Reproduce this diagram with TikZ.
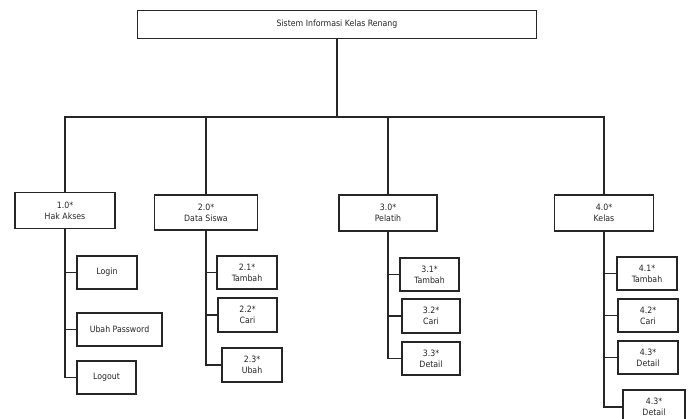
\documentclass[tikz,border=0pt]{standalone}
\usepackage{fontspec}
\setmainfont{DejaVu Sans Condensed}
\begin{document}
\begin{tikzpicture}[x=1pt,y=-1pt,
  every node/.style={font=\fontsize{8.7}{11}\selectfont, text=black!85},
  box/.style={draw=black!85, line width=1.6pt, fill=white, inner sep=0pt,
    align=center, minimum width=#1},
  box/.default=60pt,
  link/.style={draw=black!85, line width=1.5pt},
]
\useasboundingbox (0,0) rectangle (691,419);
\clip (0,0) rectangle (691,419);

% root
\node[box=399pt, minimum height=28pt] (root) at (337,24.5) {Sistem Informasi Kelas Renang};

% first level
\node[box=100pt, minimum height=36pt] (h1) at (65,210.5) {1.0*\\Hak Akses};
\node[box=103pt, minimum height=35pt] (h2) at (206,212.5) {2.0*\\Data Siswa};
\node[box=98pt, minimum height=36pt] (h3) at (388,213) {3.0*\\Pelatih};
\node[box=99pt, minimum height=36pt] (h4) at (604,213) {4.0*\\Kelas};

% 1.0 children
\node[box=60pt, minimum height=33pt] (login) at (107,272.5) {Login};
\node[box=85pt, minimum height=33pt] (pass) at (119.5,329.5) {Ubah Password};
\node[box=59pt, minimum height=33pt] (logout) at (106.5,377.5) {Logout};

% 2.0 children
\node[box=60pt, minimum height=33pt] (s1) at (247,272.5) {2.1*\\Tambah};
\node[box=59pt, minimum height=34pt] (s2) at (247.5,315) {2.2*\\Cari};
\node[box=60pt, minimum height=34pt] (s3) at (252,365) {2.3*\\Ubah};

% 3.0 children
\node[box=59pt, minimum height=33pt] (p1) at (429.5,274.5) {3.1*\\Tambah};
\node[box=58pt, minimum height=34pt] (p2) at (431,316) {3.2*\\Cari};
\node[box=58pt, minimum height=33pt] (p3) at (431,358.5) {3.3*\\Detail};

% 4.0 children
\node[box=60pt, minimum height=33pt] (k1) at (647,273.5) {4.1*\\Tambah};
\node[box=60pt, minimum height=33pt] (k2) at (648,315.5) {4.2*\\Cari};
\node[box=60pt, minimum height=33pt] (k3) at (648,357.5) {4.3*\\Detail};
\node[box=62pt, minimum height=34pt] (k4) at (654,407) {4.3*\\Detail};

% trunk and bus
\coordinate (bus) at (337,117);
\draw[link] (root.south) -- (bus);
\draw[link] (bus) -| (h1.north);
\draw[link] (bus) -| (h2.north);
\draw[link] (bus) -| (h3.north);
\draw[link] (bus) -| (h4.north);

% branches
\draw[link] (h1.south) |- (login.west);
\draw[link] (h1.south) |- (pass.west);
\draw[link] (h1.south) |- (logout.west);

\draw[link] (h2.south) |- (s1.west);
\draw[link] (h2.south) |- (s2.west);
\draw[link] (h2.south) |- (s3.west);

\draw[link] (h3.south) |- (p1.west);
\draw[link] (h3.south) |- (p2.west);
\draw[link] (h3.south) |- (p3.west);

\draw[link] (h4.south) |- (k1.west);
\draw[link] (h4.south) |- (k2.west);
\draw[link] (h4.south) |- (k3.west);
\draw[link] (h4.south) |- (k4.west);
\end{tikzpicture}
\end{document}
